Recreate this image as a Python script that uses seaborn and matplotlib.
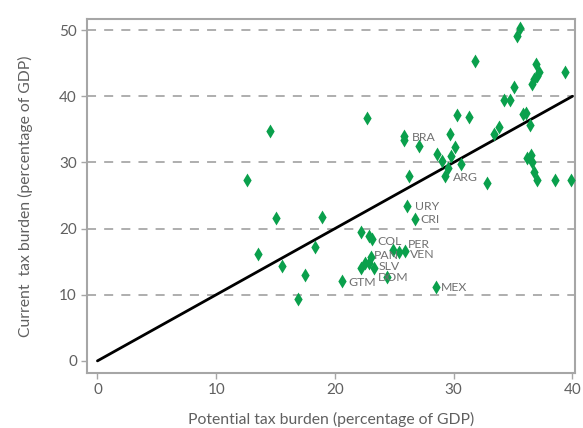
import matplotlib
matplotlib.use("Agg")
import matplotlib.pyplot as plt
import seaborn as sns
import pandas as pd

potential = [12.6, 13.5, 14.5, 15.0, 15.5, 16.9, 17.5, 18.3, 18.9, 20.6,
             22.2, 22.9, 23.1, 24.9, 25.4, 25.9, 23.0, 22.2, 22.5, 22.9,
             23.3, 24.4, 28.5, 26.1, 26.7, 22.7, 25.8, 25.8, 27.1, 29.7,
             30.1, 28.6, 29.0, 29.8, 30.6, 29.5, 29.3, 26.2, 32.8, 30.3,
             31.3, 33.4, 33.8, 35.6, 35.3, 31.8, 36.9, 37.2, 37.0, 36.8,
             36.6, 39.4, 35.1, 34.2, 34.7, 35.8, 36.1, 36.4, 36.2, 36.5,
             36.6, 36.8, 37.0, 38.5, 39.9]
current = [27.3, 16.2, 34.7, 21.6, 14.4, 9.4, 13.0, 17.2, 21.8, 12.0,
           19.5, 18.9, 18.4, 16.8, 16.5, 16.6, 15.7, 14.0, 14.8, 14.8,
           14.1, 12.7, 11.1, 23.4, 21.4, 36.7, 34.0, 33.4, 32.5, 34.3,
           32.4, 31.3, 30.2, 31.0, 29.7, 29.1, 27.9, 28.0, 26.9, 37.2,
           36.8, 34.3, 35.3, 50.3, 49.1, 45.4, 44.8, 43.7, 43.1, 42.6,
           41.9, 43.7, 41.4, 39.4, 39.4, 37.3, 37.5, 35.7, 30.7, 31.1,
           30.0, 28.6, 27.3, 27.3, 27.3]

label_codes = ["BRA", "ARG", "URY", "CRI", "COL", "PER", "VEN", "PAN", "SLV", "DOM", "GTM", "MEX"]
label_x = [26.5, 29.9, 26.7, 27.2, 23.6, 26.1, 26.3, 23.3, 23.7, 23.6, 21.1, 28.9]
label_y = [33.7, 27.7, 23.3, 21.3, 18.1, 17.6, 16.1, 16.0, 14.3, 12.6, 11.9, 11.1]

line_x = [0, 40]
line_y = [0, 40]

x_ticks = [0, 10, 20, 30, 40]
y_ticks = [0, 10, 20, 30, 40, 50]

sns.set_theme(style="white")
plt.rcParams["font.family"] = ["Lato", "DejaVu Sans"]

gray = "#606060"
spine_gray = "#a6a6a6"
green = "#0aa04c"

fig = plt.figure(figsize=(5.83, 4.28), dpi=100)
ax = fig.add_axes([0.1486, 0.129, 0.8374, 0.827])

df = pd.DataFrame({"potential": potential, "current": current})
sns.lineplot(x=line_x, y=line_y, ax=ax, color="black", linewidth=2.0, zorder=3)
sns.scatterplot(data=df, x="potential", y="current", ax=ax, marker="d",
                color=green, s=50, linewidth=0, zorder=4)

for code, tx, ty in zip(label_codes, label_x, label_y):
    ax.text(tx, ty, code, fontsize=8.8, color="#707070", va="center", ha="left", zorder=5)

ax.set_xlim(-0.91, 40.2)
ax.set_ylim(-1.8, 51.7)
ax.set_xticks(x_ticks)
ax.set_yticks(y_ticks)

for y in y_ticks[1:]:
    ax.axhline(y, color="#a8a8a8", linewidth=1.3, linestyle=(0, (5, 4.5)), zorder=1)

for sp in ax.spines.values():
    sp.set_visible(True)
    sp.set_color(spine_gray)
    sp.set_linewidth(1.5)

ax.tick_params(axis="both", which="both", direction="out", length=4, width=1,
               color=spine_gray, labelcolor=gray, labelsize=11, pad=3,
               left=True, bottom=True)

ax.set_xlabel("Potential tax burden (percentage of GDP)", fontsize=11.3, color=gray,
              labelpad=11)
ax.set_ylabel("Current  tax burden (percentage of GDP)", fontsize=11.3, color=gray,
              labelpad=19)

fig.savefig("out.png", dpi=100)
